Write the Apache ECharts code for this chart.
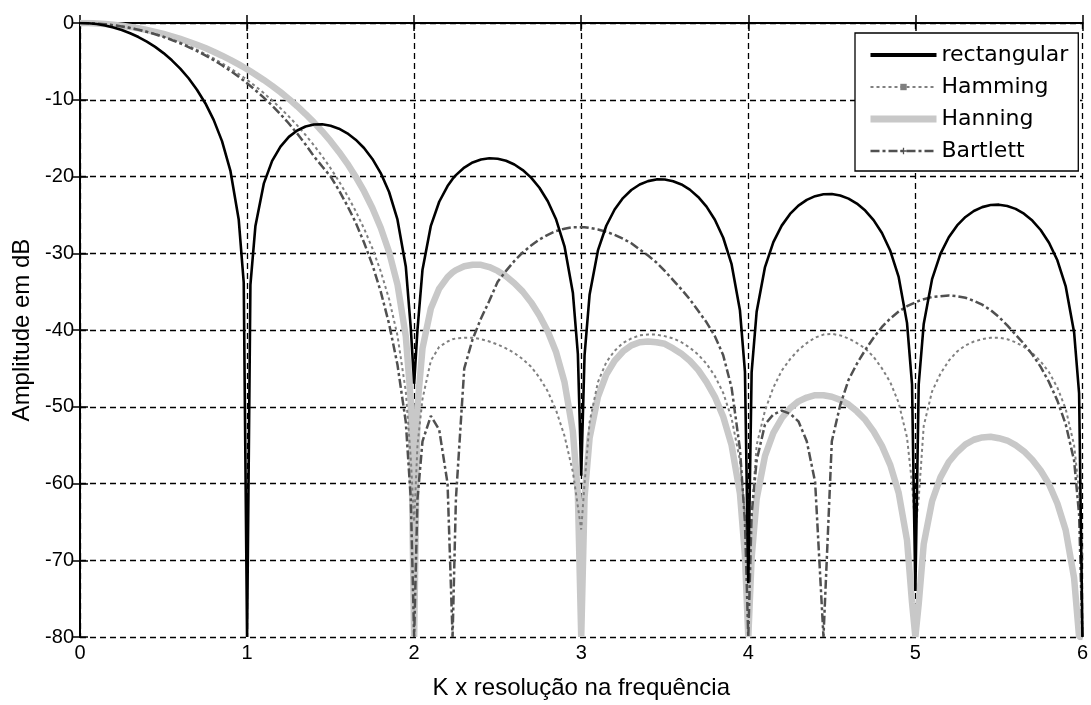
<!DOCTYPE html>
<html>
<head>
<meta charset="utf-8">
<script src="https://cdn.jsdelivr.net/npm/echarts@6/dist/echarts.min.js"></script>
<style>
  html, body { margin: 0; padding: 0; background: #fff; }
  #chart { width: 1091px; height: 705px; }
</style>
</head>
<body>
<div id="chart"></div>
<script>
// Frequency axis samples (K x frequency resolution)
const freq = [
  0, 0.05, 0.1, 0.15, 0.2, 0.25, 0.3, 0.35, 0.4, 0.45, 0.5, 0.55, 0.6, 0.65, 0.7, 0.75, 0.8, 0.85, 0.9, 0.95, 0.98,
  1, 1.02, 1.05, 1.1, 1.15, 1.2, 1.25, 1.3, 1.35, 1.4, 1.45, 1.5, 1.55, 1.6, 1.65, 1.7, 1.75, 1.8, 1.85, 1.9, 1.95, 1.98,
  2, 2.02, 2.05, 2.1, 2.15, 2.2, 2.23, 2.25, 2.3, 2.35, 2.4, 2.45, 2.5, 2.55, 2.6, 2.65, 2.7, 2.75, 2.8, 2.85, 2.9, 2.95, 2.98,
  3, 3.02, 3.05, 3.1, 3.15, 3.2, 3.25, 3.3, 3.35, 3.4, 3.45, 3.5, 3.55, 3.6, 3.65, 3.7, 3.75, 3.8, 3.85, 3.9, 3.95, 3.98,
  4, 4.02, 4.05, 4.1, 4.15, 4.2, 4.25, 4.3, 4.35, 4.4, 4.45, 4.5, 4.55, 4.6, 4.65, 4.7, 4.75, 4.8, 4.85, 4.9, 4.95, 4.98,
  5, 5.02, 5.05, 5.1, 5.15, 5.2, 5.25, 5.3, 5.35, 5.4, 5.45, 5.5, 5.55, 5.6, 5.65, 5.7, 5.75, 5.8, 5.85, 5.9, 5.95, 5.98,
  6
];

// Magnitude responses in dB, one value per frequency sample
const rectangularDb = [
  0, -0.04, -0.14, -0.32, -0.58, -0.91, -1.33, -1.83, -2.42, -3.11, -3.92, -4.86, -5.94, -7.2, -8.69, -10.45, -12.62, -15.39, -19.23, -25.61, -33.81,
  -80, -34.12, -26.44, -20.93, -17.97, -16.1, -14.84, -14.0, -13.49, -13.23, -13.2, -13.39, -13.77, -14.37, -15.2, -16.29, -17.71, -19.55, -22.02, -25.59, -31.72, -39.78,
  -47, -39.94, -32.14, -26.43, -23.29, -21.24, -20.32, -19.82, -18.83, -18.17, -17.78, -17.62, -17.68, -17.95, -18.44, -19.16, -20.15, -21.47, -23.23, -25.61, -29.09, -35.14, -43.15,
  -59, -43.26, -35.41, -29.63, -26.42, -24.3, -22.81, -21.76, -21.04, -20.6, -20.38, -20.39, -20.61, -21.04, -21.71, -22.66, -23.93, -25.64, -27.98, -31.42, -37.43, -45.42,
  -73, -45.49, -37.62, -31.8, -28.55, -26.4, -24.88, -23.79, -23.04, -22.56, -22.31, -22.28, -22.47, -22.88, -23.52, -24.44, -25.68, -27.37, -29.68, -33.09, -39.07, -47.04,
  -74, -47.1, -39.21, -33.37, -30.09, -27.92, -26.37, -25.27, -24.49, -23.99, -23.72, -23.67, -23.84, -24.22, -24.84, -25.74, -26.97, -28.63, -30.92, -34.32, -40.28, -48.24,
  -80
];

const hammingDb = [
  0, -0.02, -0.07, -0.16, -0.28, -0.43, -0.62, -0.85, -1.11, -1.41, -1.75, -2.13, -2.54, -3.0, -3.49, -4.03, -4.61, -5.24, -5.91, -6.64, -7.1,
  -7.41, -7.74, -8.24, -9.13, -10.08, -11.1, -12.18, -13.34, -14.59, -15.93, -17.37, -18.93, -20.62, -22.47, -24.5, -26.78, -29.35, -32.35, -35.97, -40.7, -48.0, -56.8,
  -65, -55, -49, -44.0, -42.2, -41.5, -41.2, -41.1, -41.0, -41.0, -41.2, -41.5, -41.9, -42.4, -43.0, -43.8, -44.8, -46.2, -48.0, -50.5, -53.8, -58.5, -63,
  -66, -60, -52, -46.8, -44.2, -42.7, -41.7, -41.1, -40.7, -40.6, -40.6, -40.8, -41.1, -41.6, -42.3, -43.2, -44.4, -46.0, -48.2, -51.5, -57, -64,
  -70, -64, -55, -50.5, -47.5, -45.3, -43.8, -42.6, -41.7, -41.0, -40.6, -40.5, -40.7, -41.1, -41.7, -42.4, -43.5, -45.0, -46.8, -49.5, -54, -60,
  -66, -62, -52.5, -48.0, -45.7, -44.0, -42.8, -42.0, -41.5, -41.2, -41.0, -41.0, -41.2, -41.6, -42.2, -43.0, -44.1, -45.5, -47.5, -50.3, -55, -61,
  -70
];

const hanningDb = [
  0, -0.01, -0.06, -0.13, -0.23, -0.35, -0.51, -0.69, -0.91, -1.15, -1.42, -1.73, -2.07, -2.44, -2.84, -3.27, -3.75, -4.26, -4.8, -5.39, -5.77,
  -6.02, -6.29, -6.7, -7.42, -8.19, -9.01, -9.89, -10.84, -11.86, -12.95, -14.13, -15.4, -16.8, -18.32, -20.02, -21.92, -24.1, -26.67, -29.83, -34.05, -40.81, -49.23,
  -80, -49.9, -42.4, -37.2, -34.6, -33.1, -32.5, -32.2, -31.7, -31.5, -31.5, -31.8, -32.3, -33.0, -33.9, -35.0, -36.4, -38.1, -40.2, -42.9, -46.8, -53.2, -61.4,
  -80, -61.8, -54.1, -48.7, -45.8, -44.0, -42.8, -42.0, -41.6, -41.5, -41.6, -41.8, -42.4, -43.1, -44.0, -45.2, -46.8, -48.7, -51.3, -55.0, -61.3, -69.4,
  -80, -69.7, -62.0, -56.4, -53.4, -51.5, -50.2, -49.3, -48.8, -48.5, -48.5, -48.7, -49.1, -49.7, -50.6, -51.7, -53.2, -55.1, -57.6, -61.2, -67.4, -75.5,
  -80, -75.7, -67.9, -62.3, -59.2, -57.2, -55.9, -54.9, -54.3, -54.0, -53.9, -54.1, -54.4, -55.0, -55.8, -56.9, -58.3, -60.1, -62.6, -66.1, -72.3, -80,
  -80
];

const bartlettDb = [
  0, -0.02, -0.07, -0.16, -0.29, -0.45, -0.65, -0.88, -1.16, -1.47, -1.82, -2.22, -2.65, -3.13, -3.65, -4.22, -4.84, -5.51, -6.23, -7.01, -7.5,
  -7.84, -8.2, -8.76, -9.72, -10.76, -11.88, -13.1, -14.41, -15.82, -17.37, -18.7, -20.0, -21.8, -23.8, -26.0, -28.6, -31.5, -35.0, -39.2, -44.5, -52, -62,
  -80, -62, -54.5, -51.2, -53.0, -60, -80, -62, -45.0, -41.2, -38.5, -36.2, -33.7, -32.3, -31.0, -29.9, -29.0, -28.2, -27.6, -27.1, -26.8, -26.6, -26.6,
  -26.6, -26.6, -26.7, -26.9, -27.2, -27.6, -28.1, -28.7, -29.5, -30.3, -31.2, -32.3, -33.5, -34.7, -36.0, -37.5, -39.0, -40.8, -43.3, -47.5, -55.5, -65,
  -80, -64, -57, -52.3, -51.0, -50.5, -50.9, -51.9, -54.5, -59.8, -80, -54.5, -49.8, -46.5, -44.4, -42.6, -41.0, -39.6, -38.5, -37.6, -36.9, -36.6,
  -36.4, -36.2, -36.0, -35.7, -35.6, -35.5, -35.6, -35.8, -36.2, -36.7, -37.4, -38.3, -39.4, -40.6, -41.8, -43.2, -44.8, -46.8, -49.2, -52.3, -57, -64,
  -80
];

const seriesNames = ['rectangular', 'Hamming', 'Hanning', 'Bartlett'];

function pairs(values) {
  return freq.map((f, i) => [f, values[i]]);
}

const chart = echarts.init(document.getElementById('chart'), null, { renderer: 'canvas' });

const labelFont = { fontFamily: 'Liberation Sans, Arial, sans-serif', fontSize: 20, color: '#000' };
const titleFont = { fontFamily: 'Liberation Sans, Arial, sans-serif', fontSize: 24, color: '#000' };
const gridLine = { show: true, lineStyle: { color: '#000', width: 1.3, type: [6, 4] } };
const axisLineStyle = { show: true, lineStyle: { color: '#000', width: 2 } };
const tickStyle = { show: true, inside: true, length: 8, lineStyle: { color: '#000', width: 1.5 } };

const crossIcon = 'path://M4,0H6V4H10V6H6V10H4V6H0V4H4Z';

chart.setOption({
  animation: false,
  backgroundColor: '#fff',
  grid: { left: 80, right: 2, top: 23, bottom: 64, containLabel: false },
  xAxis: [
    {
      type: 'value', min: 0, max: 6, interval: 1, position: 'bottom',
      axisLine: axisLineStyle, axisTick: tickStyle,
      axisLabel: Object.assign({ margin: 6 }, labelFont),
      splitLine: gridLine,
      name: 'K x resolução na frequência', nameLocation: 'middle', nameGap: 39,
      nameTextStyle: titleFont
    },
    {
      type: 'value', min: 0, max: 6, interval: 1, position: 'top',
      axisLine: axisLineStyle, axisTick: tickStyle,
      axisLabel: { show: false }, splitLine: { show: false }
    }
  ],
  yAxis: [
    {
      type: 'value', min: -80, max: 0, interval: 10, position: 'left',
      axisLine: axisLineStyle, axisTick: tickStyle,
      axisLabel: Object.assign({ margin: 6 }, labelFont),
      splitLine: gridLine,
      name: 'Amplitude em dB', nameLocation: 'middle', nameGap: 44,
      nameTextStyle: titleFont
    },
    {
      type: 'value', min: -80, max: 0, interval: 10, position: 'right',
      axisLine: axisLineStyle, axisTick: tickStyle,
      axisLabel: { show: false }, splitLine: { show: false }
    }
  ],
  legend: {
    orient: 'vertical',
    left: 855, top: 33,
    padding: [11, 10, 9, 12],
    itemWidth: 66, itemHeight: 8, itemGap: 10,
    backgroundColor: '#fff', borderColor: '#000', borderWidth: 1.3,
    textStyle: { fontFamily: 'DejaVu Sans, Verdana, sans-serif', fontSize: 22, color: '#000' },
    lineStyle: { width: 'inherit' },
    data: [
      { name: seriesNames[0], lineStyle: { width: 4 }, itemStyle: { opacity: 0 } },
      { name: seriesNames[1] },
      { name: seriesNames[2], lineStyle: { width: 7 }, itemStyle: { opacity: 0 } },
      { name: seriesNames[3] }
    ],
    selectedMode: false
  },
  series: [
    {
      name: seriesNames[2], type: 'line', data: pairs(hanningDb), z: 2,
      symbol: 'none', showSymbol: false,
      lineStyle: { color: '#c8c8c8', width: 6.5 }, itemStyle: { color: '#c8c8c8' }
    },
    {
      name: seriesNames[1], type: 'line', data: pairs(hammingDb), z: 3,
      symbol: 'rect', showSymbol: false,
      lineStyle: { color: '#808080', width: 2, type: [3, 3] }, itemStyle: { color: '#808080' }
    },
    {
      name: seriesNames[3], type: 'line', data: pairs(bartlettDb), z: 4,
      symbol: crossIcon, showSymbol: false,
      lineStyle: { color: '#505050', width: 2.5, type: [9, 3, 3, 3] }, itemStyle: { color: '#505050' }
    },
    {
      name: seriesNames[0], type: 'line', data: pairs(rectangularDb), z: 5,
      symbol: 'none', showSymbol: false,
      lineStyle: { color: '#000', width: 2.6 }, itemStyle: { color: '#000' }
    }
  ]
});
</script>
</body>
</html>
